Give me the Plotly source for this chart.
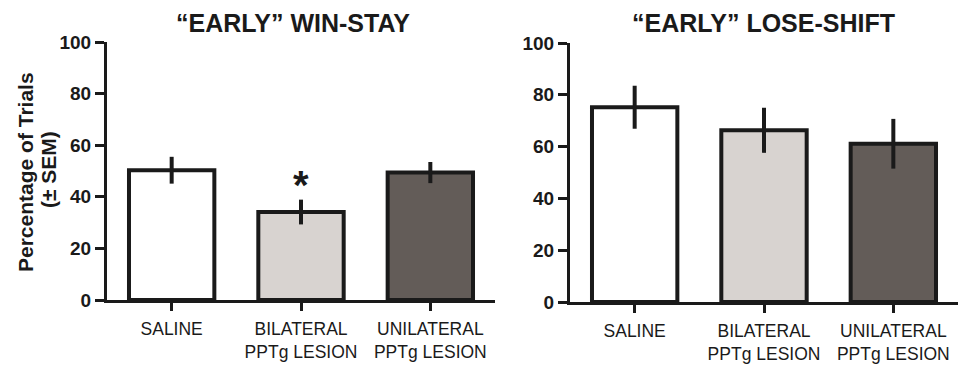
import plotly.graph_objects as go

categories = ["SALINE", "BILATERAL<br>PPTg LESION", "UNILATERAL<br>PPTg LESION"]
win_stay = [50.3, 34.1, 49.4]
win_stay_sem = [5.2, 4.8, 4.1]
lose_shift = [75.2, 66.3, 61.1]
lose_shift_sem = [8.3, 8.7, 9.6]
bar_colors = ["#ffffff", "#d8d3d0", "#635c58"]
y_ticks = [0, 20, 40, 60, 80, 100]
titles = ["“EARLY” WIN-STAY", "“EARLY” LOSE-SHIFT"]
y_title_lines = ["Percentage of Trials", "(± SEM)"]

FONT = "Liberation Sans, Arial, sans-serif"
INK = "#1a1a1a"

fig = go.Figure()
x_idx = list(range(len(categories)))

for vals, sem, xa, ya in [(win_stay, win_stay_sem, "x", "y"), (lose_shift, lose_shift_sem, "x2", "y2")]:
    fig.add_trace(go.Bar(
        x=x_idx, y=vals, width=0.66,
        marker=dict(color=bar_colors, line=dict(color=INK, width=4)),
        error_y=dict(type="data", array=sem, visible=True, color=INK, thickness=4, width=0),
        xaxis=xa, yaxis=ya, showlegend=False, hoverinfo="skip",
    ))

xcommon = dict(
    range=[-0.5, 2.5], tickmode="array", tickvals=x_idx, ticktext=categories,
    showline=True, linecolor=INK, linewidth=3, ticks="outside", ticklen=8, tickwidth=3,
    tickcolor=INK, showgrid=False, zeroline=False, automargin=False, ticklabelstandoff=3,
    tickfont=dict(family=FONT, size=17.5, color=INK), fixedrange=True,
)
ycommon = dict(
    range=[0, 100], tickmode="array", tickvals=y_ticks,
    showline=True, linecolor=INK, linewidth=3, ticks="outside", ticklen=9, tickwidth=3,
    tickcolor=INK, showgrid=False, zeroline=False, automargin=False, fixedrange=True,
    tickfont=dict(family=FONT, size=19, color=INK, weight="bold"),
)

fig.update_layout(
    width=958, height=368,
    margin=dict(l=0, r=0, t=0, b=0, pad=0),
    paper_bgcolor="white", plot_bgcolor="white",
    xaxis=dict(domain=[107/958, 495/958], anchor="y", **xcommon),
    yaxis=dict(domain=[1-300/368, 1-42/368], anchor="x", **ycommon),
    xaxis2=dict(domain=[570/958, 1.0], anchor="y2", **xcommon),
    yaxis2=dict(domain=[1-302/368, 1-43/368], anchor="x2", **ycommon),
)

annotations = [
    dict(text=titles[0], x=293/958, y=1-23/368, xref="paper", yref="paper",
         xanchor="center", yanchor="middle", showarrow=False,
         font=dict(family=FONT, size=25, color=INK, weight="bold")),
    dict(text=titles[1], x=763/958, y=1-23/368, xref="paper", yref="paper",
         xanchor="center", yanchor="middle", showarrow=False,
         font=dict(family=FONT, size=25, color=INK, weight="bold")),
    dict(text=y_title_lines[0], x=25/958, y=1-172/368, xref="paper", yref="paper",
         xanchor="center", yanchor="middle", showarrow=False, textangle=-90,
         font=dict(family=FONT, size=21, color=INK, weight="bold")),
    dict(text=y_title_lines[1], x=49/958, y=1-170/368, xref="paper", yref="paper",
         xanchor="center", yanchor="middle", showarrow=False, textangle=-90,
         font=dict(family=FONT, size=21, color=INK, weight="bold")),
    dict(text="*", x=1, y=win_stay[1] + win_stay_sem[1] + 5.7, xref="x", yref="y",
         xanchor="center", yanchor="middle", showarrow=False,
         font=dict(family=FONT, size=40, color=INK, weight="bold")),
]
fig.update_layout(annotations=annotations)

fig.write_html(
    "out.html",
    config={"displayModeBar": False, "staticPlot": True},
    post_script="document.body.style.margin='0';document.body.style.overflow='hidden';",
)
